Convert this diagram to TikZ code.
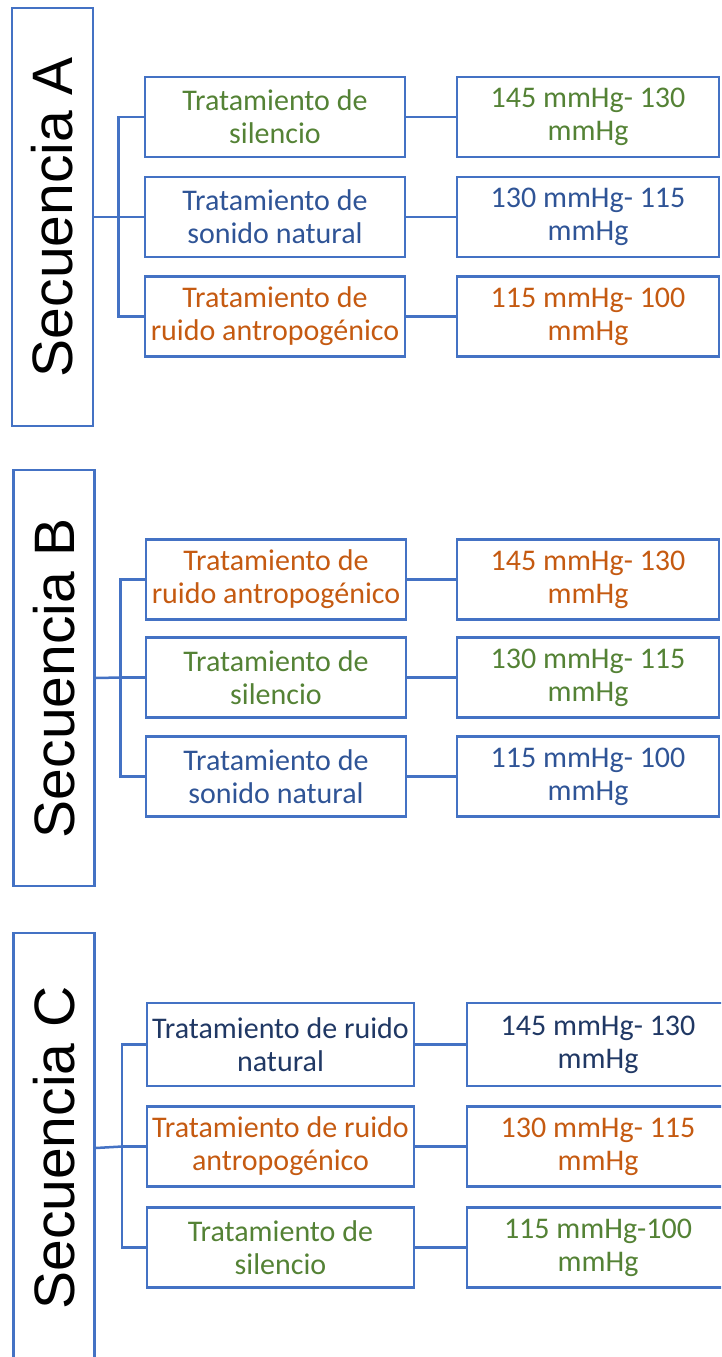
\documentclass[tikz,border=0pt]{standalone}
\usepackage{fontspec}
\setmainfont{Carlito}
\newfontfamily\seqfont{Liberation Sans}
\usepackage{tikz}
\definecolor{lineblue}{HTML}{4472C4}
\definecolor{txtgreen}{HTML}{548235}
\definecolor{txtblue}{HTML}{2F5496}
\definecolor{txtdark}{HTML}{203864}
\definecolor{txtorange}{HTML}{C55A11}
\tikzset{
    every node/.style={draw=lineblue, line width=2.5pt, inner sep=0pt}
}
\tikzset{
    seqbox/.style={rotate=90, minimum height=81pt, text=black,
        font=\seqfont\fontsize{57}{60}\selectfont},
    treatbox/.style={minimum width=260pt, minimum height=80pt, align=center,
        font=\fontsize{30}{33}\selectfont},
    rangebox/.style={treatbox, minimum width=262pt}
}

\begin{document}
\begin{tikzpicture}[x=1pt, y=-1pt, lineblue, line width=2.5pt]
  \clip (0,0) rectangle (721,1357);
  \useasboundingbox (0,0) rectangle (721,1357);

  % Secuencia A
  \node (sA) [seqbox, minimum width=418pt] at (52.5,217) {Secuencia A};
  \node (tA1) [treatbox, text=txtgreen] at (275,117) {Tratamiento de\\silencio};
  \node (tA2) [treatbox, text=txtblue] at (275,217) {Tratamiento de\\sonido natural};
  \node (tA3) [treatbox, text=txtorange] at (275,316.5) {Tratamiento de\\ruido antropogénico};
  \node (rA1) [rangebox, text=txtgreen] at (588,117) {145 mmHg- 130\\mmHg};
  \node (rA2) [rangebox, text=txtblue] at (588,217) {130 mmHg- 115\\mmHg};
  \node (rA3) [rangebox, text=txtorange] at (588,316.5) {115 mmHg- 100\\mmHg};
  \coordinate (jA) at (118.5,217);
  \draw (sA.south) -- (jA); \draw (jA) -- (tA2.west);
  \draw (tA1.west) -| (jA) |- (tA3.west);
  \draw (tA1) -- (rA1); \draw (tA2) -- (rA2); \draw (tA3) -- (rA3);

  % Secuencia B
  \node (sB) [seqbox, minimum width=416pt] at (54,678) {Secuencia B};
  \node (tB1) [treatbox, text=txtorange] at (276,579.5) {Tratamiento de\\ruido antropogénico};
  \node (tB2) [treatbox, text=txtgreen] at (276,677.5) {Tratamiento de\\silencio};
  \node (tB3) [treatbox, text=txtblue] at (276,776.5) {Tratamiento de\\sonido natural};
  \node (rB1) [rangebox, text=txtorange] at (588,579.5) {145 mmHg- 130\\mmHg};
  \node (rB2) [rangebox, text=txtgreen] at (588,677.5) {130 mmHg- 115\\mmHg};
  \node (rB3) [rangebox, text=txtblue] at (588,776.5) {115 mmHg- 100\\mmHg};
  \coordinate (jB) at (120.5,677.5);
  \draw (sB.south) -- (jB); \draw (jB) -- (tB2.west);
  \draw (tB1.west) -| (jB) |- (tB3.west);
  \draw (tB1) -- (rB1); \draw (tB2) -- (rB2); \draw (tB3) -- (rB3);

  % Secuencia C
  \node (sC) [seqbox, minimum width=430pt] at (54,1148) {Secuencia C};
  \node (tC1) [treatbox, minimum width=267pt, minimum height=83pt, text=txtdark] at (280.5,1044.5) {Tratamiento de ruido\\natural};
  \node (tC2) [treatbox, minimum width=267pt, text=txtorange] at (280.5,1146.5) {Tratamiento de ruido\\antropogénico};
  \node (tC3) [treatbox, minimum width=267pt, text=txtgreen] at (280.5,1247.5) {Tratamiento de\\silencio};
  \node (rC1) [rangebox, minimum height=83pt, text=txtdark] at (598,1044.5) {145 mmHg- 130\\mmHg};
  \node (rC2) [rangebox, text=txtorange] at (598,1146.5) {130 mmHg- 115\\mmHg};
  \node (rC3) [rangebox, text=txtgreen] at (598,1247.5) {115 mmHg-100\\mmHg};
  \coordinate (jC) at (122,1146.5);
  \draw (sC.south) -- (jC); \draw (jC) -- (tC2.west);
  \draw (tC1.west) -| (jC) |- (tC3.west);
  \draw (tC1) -- (rC1); \draw (tC2) -- (rC2); \draw (tC3) -- (rC3);
\end{tikzpicture}
\end{document}
